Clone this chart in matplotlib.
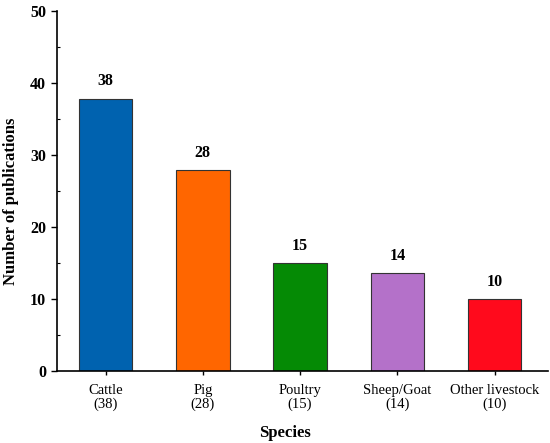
import matplotlib
matplotlib.use("Agg")
import matplotlib.pyplot as plt
from matplotlib.ticker import MultipleLocator

# données
species = ["Cattle", "Pig", "Poultry", "Sheep/Goat", "Other livestock"]
counts = [38, 28, 15, 14, 10]
bar_heights = [37.8, 27.9, 15.0, 13.6, 10.0]
colors = ["#0062AF", "#FF6600", "#058A05", "#B471C9", "#FF0A1C"]

plt.rcParams["font.family"] = ["Liberation Serif", "DejaVu Serif"]

fig = plt.figure(figsize=(5.5, 4.43), dpi=100)
ax = fig.add_axes([57 / 550, 72 / 443, 491 / 550, 360 / 443])

xs = list(range(len(species)))
ax.bar(xs, bar_heights, width=0.55, color=colors, edgecolor="#333333", linewidth=0.8)

# étiquettes au-dessus des barres
for x, h, c in zip(xs, bar_heights, counts):
    ax.text(x, h + 1.3, str(c), ha="center", va="bottom",
            fontsize=11.5, fontweight="bold")

ax.set_xlim(-0.5, 4.55)
ax.set_ylim(0, 50)
ax.set_xticks(xs)
ax.set_xticklabels([f"{s}\n({c})" for s, c in zip(species, counts)],
                   fontsize=10.5, linespacing=1.05)
ax.yaxis.set_major_locator(MultipleLocator(10))
ax.yaxis.set_minor_locator(MultipleLocator(5))
for lab in ax.get_yticklabels():
    lab.set_fontweight("bold")
    lab.set_fontsize(11.5)

ax.tick_params(axis="y", which="major", direction="out", length=4, width=1, pad=4)
ax.tick_params(axis="y", which="minor", direction="in", length=2, width=0.8)
ax.tick_params(axis="x", direction="out", length=3, width=1, pad=6.5)

ax.spines["top"].set_visible(False)
ax.spines["right"].set_visible(False)
ax.spines["left"].set_linewidth(1.2)
ax.spines["bottom"].set_linewidth(1.2)

ax.set_ylabel("Number of publications", fontsize=12, fontweight="bold")
ax.set_xlabel("Species", fontsize=12, fontweight="bold", va="bottom")
ax.xaxis.set_label_coords(0.464, -0.195)
ax.yaxis.set_label_coords(-0.077, 0.472)

fig.savefig("out.png", dpi=100)
